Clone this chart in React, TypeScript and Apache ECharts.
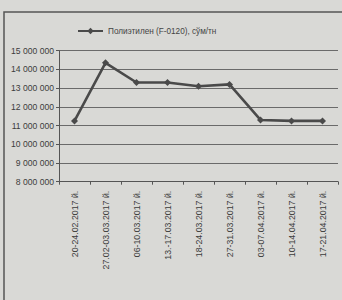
import React, { useEffect, useRef } from "react";
import * as echarts from "echarts";

const categories = [
  "20-24.02.2017 й.",
  "27.02-03.03.2017 й.",
  "06-10.03.2017 й.",
  "13.-17.03.2017 й.",
  "18-24.03.2017 й.",
  "27-31.03.2017 й.",
  "03-07.04.2017 й.",
  "10-14.04.2017 й.",
  "17-21.04.2017 й.",
];
const seriesName = "Полиэтилен (F-0120), сўм/тн";
const values = [11250000, 14350000, 13300000, 13300000, 13100000, 13200000, 11300000, 11250000, 11250000];
const yMin = 8000000;
const yMax = 15000000;
const yStep = 1000000;

const fmt = (v: number) => String(v).replace(/\B(?=(\d{3})+(?!\d))/g, " ");

export default function App() {
  const ref = useRef<HTMLDivElement>(null);
  useEffect(() => {
    document.body.style.margin = "0";
    const chart = echarts.init(ref.current!, undefined, { renderer: "svg" });
    const ink = "#4a4a4a";
    chart.setOption({
      animation: false,
      backgroundColor: "#d9d9d6",
      textStyle: { fontFamily: "Liberation Sans, Arial, sans-serif" },
      graphic: [
        {
          type: "rect",
          shape: { x: 4, y: 12, width: 360, height: 320 },
          style: { fill: "none", stroke: "#555", lineWidth: 1.5 },
          silent: true,
        },
      ],
      legend: {
        top: 22,
        left: 72,
        itemWidth: 25,
        itemHeight: 8,
        itemGap: 6,
        textStyle: { fontSize: 8.2, color: "#444" },
        data: [seriesName],
      },
      grid: { left: 59, right: 4, top: 50.7, bottom: 118.3, containLabel: false },
      xAxis: {
        type: "category",
        data: categories,
        boundaryGap: true,
        axisLine: { lineStyle: { color: "#555", width: 1 } },
        axisTick: { show: true, length: 3, lineStyle: { color: "#555" } },
        axisLabel: {
          rotate: 90,
          fontSize: 8.8,
          color: "#3c3c3c",
          margin: 9,
          interval: 0,
        },
      },
      yAxis: {
        type: "value",
        min: yMin,
        max: yMax,
        interval: yStep,
        axisLine: { show: true, lineStyle: { color: "#555", width: 1 } },
        axisTick: { show: true, length: 3, lineStyle: { color: "#555" } },
        axisLabel: { fontSize: 8.6, color: "#3c3c3c", margin: 5, formatter: (v: number) => fmt(v) },
        splitLine: { show: true, lineStyle: { color: "#6a6a6a", width: 1 } },
      },
      series: [
        {
          name: seriesName,
          type: "line",
          data: values,
          symbol: "diamond",
          symbolSize: 7,
          lineStyle: { color: ink, width: 2.6 },
          itemStyle: { color: ink },
        },
      ],
    });
    return () => chart.dispose();
  }, []);
  return <div ref={ref} style={{ position: "fixed", left: 0, top: 0, width: 342, height: 300 }} />;
}
